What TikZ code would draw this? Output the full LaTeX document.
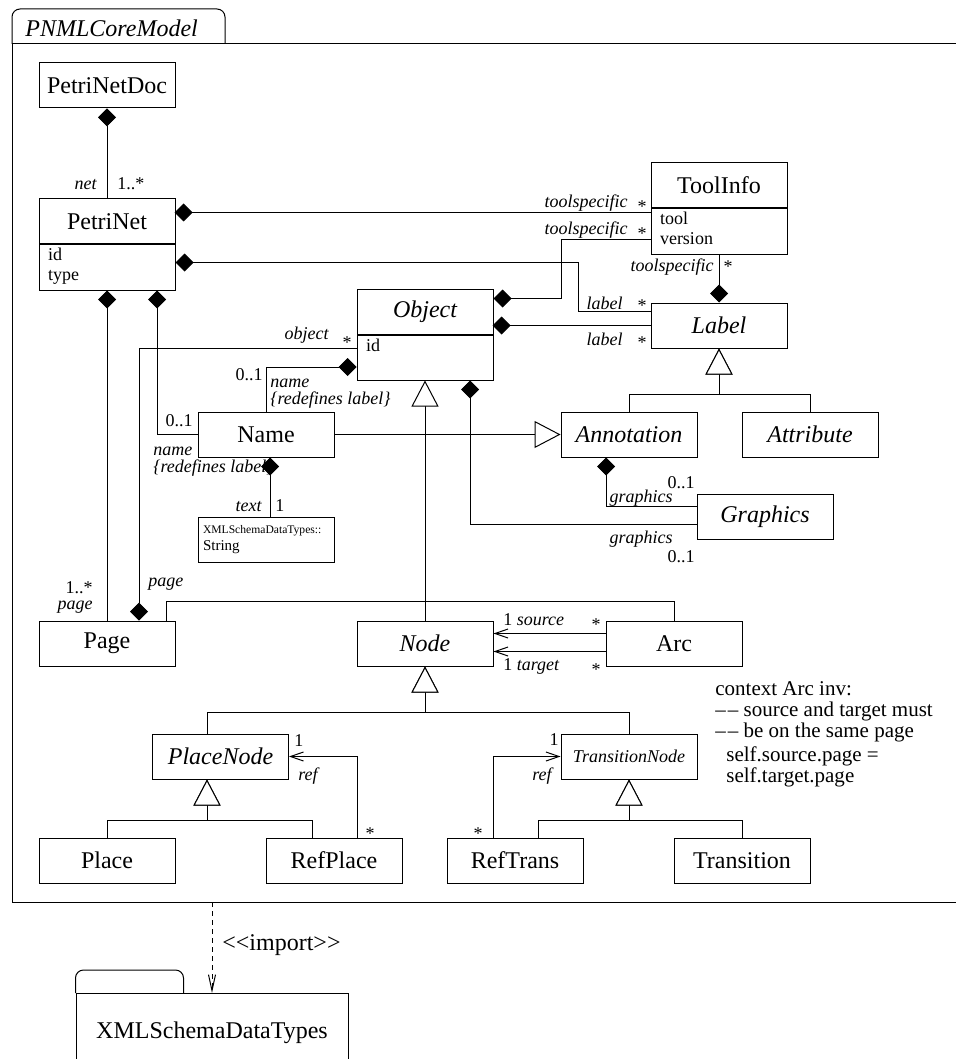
\documentclass[tikz,border=0pt]{standalone}
\usepackage{fontspec}
\setmainfont{Liberation Serif}
\usetikzlibrary{positioning, arrows.meta, calc}
\tikzset{
    cls/.style={rectangle, draw, line width=0.5pt, minimum width=68pt, minimum height=22.5pt, inner sep=0pt, font=\fontsize{12}{14}\selectfont},
    acls/.style={cls, font=\fontsize{12}{14}\selectfont\itshape},
    attrs/.style={rectangle, draw, line width=0.5pt, minimum width=68pt, text width=59pt, align=left, inner xsep=4.5pt, inner ysep=1pt, text height=7pt, text depth=13.5pt, font=\fontsize{9}{9.5}\selectfont},
    role/.style={inner sep=0pt, font=\fontsize{9}{8.5}\selectfont\itshape},
    mult/.style={inner sep=0pt, font=\fontsize{9}{10}\selectfont},
    ocl/.style={inner sep=0pt, align=left, anchor=north west},
    comp/.style={line width=0.5pt, -{Diamond[length=9pt,width=9pt]}},
    gen/.style={line width=0.5pt, -{Triangle[length=13pt,width=13.5pt,fill=white]}},
    nav/.style={line width=0.5pt, -{Straight Barb[length=6.5pt,width=4.5pt]}},
    assoc/.style={line width=0.5pt},
    dep/.style={line width=0.5pt, dash pattern=on 2.5pt off 2pt, -{Straight Barb[length=8pt,width=3.5pt]}},
}
\newcommand{\ocldash}{\textendash\kern1pt\textendash{} }
\begin{document}
\begin{tikzpicture}[x=0.5pt, y=-0.5pt]
    \useasboundingbox (0,0) rectangle (956,1059);
    \clip (0,0) rectangle (956,1059);
    % package PNMLCoreModel
    \draw[line width=0.5pt, rounded corners=4pt] (12,44) |- (225,9) -- (225,44);
    \draw[line width=0.5pt] (960,44) -| (12,902) -- (960,902);
    \node[anchor=west, inner sep=0pt, font=\fontsize{12}{14}\selectfont\itshape] (pkgname) at (25,28) {PNMLCoreModel};
    % classes
    \node[cls] (pnd) at (107,85.5) {PetriNetDoc};
    \node[cls] (pn) at (107,221.5) {PetriNet};
    \node[attrs, below=0pt of pn] (pna) {id\\type};
    \node[cls] (ti) at (719,185.5) {ToolInfo};
    \node[attrs, below=0pt of ti] (tia) {tool\\version};
    \node[acls] (lab) at (719,325.5) {Label};
    \node[acls] (obj) at (425,311.5) {Object};
    \node[attrs, below=0pt of obj] (obja) {id};
    \node[cls] (name) at (266,434.5) {Name};
    \node[cls, text width=63pt, align=left, inner xsep=2.5pt, font=\fontsize{7.5}{8.5}\selectfont] (str) at (266,539.5) {{\fontsize{5.8}{7}\selectfont XMLSchemaDataTypes::}\\String};
    \node[acls] (ann) at (629,434.5) {Annotation};
    \node[acls] (att) at (810,434.5) {Attribute};
    \node[acls] (gr) at (765,516.5) {Graphics};
    \node[cls] (page) at (107,643.5) {Page};
    \node[acls] (nod) at (425,643.5) {Node};
    \node[cls] (arc) at (674,643.5) {Arc};
    \node[acls] (pln) at (220.5,756.5) {PlaceNode};
    \node[acls, font=\fontsize{9}{10}\selectfont\itshape] (trn) at (629,756.5) {TransitionNode};
    \node[cls] (place) at (107,860.5) {Place};
    \node[cls] (rpl) at (334,860.5) {RefPlace};
    \node[cls] (rtr) at (515,860.5) {RefTrans};
    \node[cls] (trans) at (742,860.5) {Transition};
    % compositions
    \draw[comp] (pn.north) -- (pnd.south);
    \draw[comp] ($(tia.north west)+(0,4)$) -- ($(tia.north west)+(-476,4)$);
    \draw[comp] ($(tia.north west)+(0,31)$) -| ($(obj.north east)+(68,10)$) -- ($(obj.north east)+(0,10)$);
    \draw[comp] ($(lab.north west)+(0,9)$) -| ($(pna.north east)+(403,18)$) -- ($(pna.north east)+(0,18)$);
    \draw[comp] ($(lab.north west)+(0,23)$) -- ($(lab.north west)+(-158,23)$);
    \draw[comp] (tia.south) -- (lab.north);
    \draw[comp] (name.north) |- ($(obja.north west)+(0,32.5)$);
    \draw[comp] (name.west) -| ($(pna.south)+(50,0)$);
    \draw[comp] ($(str.north)+(4,0)$) -- ($(name.south)+(4,0)$);
    \draw[comp] (page.north) -- (pna.south);
    \draw[comp] ($(obja.north west)+(0,13.5)$) -| ($(page.north)+(32,0)$);
    \draw[comp] ($(gr.north west)+(0,31)$) -| ($(obja.south)+(45,0)$);
    \draw[comp] ($(gr.north west)+(0,13)$) -| ($(ann.south)+(-23,0)$);
    % generalizations
    \draw[gen] (ann.north) |- ($(lab.south)+(0,46)$) -- (lab.south);
    \draw[gen] (att.north) |- ($(lab.south)+(0,46)$) -- (lab.south);
    \draw[gen] (name.east) -- (ann.west);
    \draw[gen] (nod.north) -- (obja.south);
    \draw[gen] ($(pln.north)+(-13.5,0)$) |- ($(nod.south)+(0,46)$) -- (nod.south);
    \draw[gen] (trn.north) |- ($(nod.south)+(0,46)$) -- (nod.south);
    \draw[gen] (place.north) |- ($(pln.south)+(-13.5,41)$) -- ($(pln.south)+(-13.5,0)$);
    \draw[gen] ($(rpl.north)+(-22,0)$) |- ($(pln.south)+(-13.5,41)$) -- ($(pln.south)+(-13.5,0)$);
    \draw[gen] ($(rtr.north)+(23,0)$) |- ($(trn.south)+(0,41)$) -- (trn.south);
    \draw[gen] (trans.north) |- ($(trn.south)+(0,41)$) -- (trn.south);
    % associations
    \draw[assoc] ($(page.north)+(59,0)$) |- ($(arc.north)+(0,-19)$) -- (arc.north);
    \draw[nav] ($(arc.north west)+(0,13)$) -- ($(nod.north east)+(0,13)$);
    \draw[nav] ($(arc.north west)+(0,31)$) -- ($(nod.north east)+(0,31)$);
    \draw[nav] ($(rpl.north)+(23,0)$) |- (pln.east);
    \draw[nav] ($(rtr.north)+(-22,0)$) |- (trn.west);
    % roles and multiplicities
    \node[role, anchor=east] (rnet) at (97,185) {net};
    \node[mult, anchor=west] (mnet) at (117,184) {1..*};
    \node[role, anchor=east] (rts1) at (628,203) {toolspecific};
    \node[mult] (mts1) at (642,207) {*};
    \node[role, anchor=east] (rts2) at (628,230) {toolspecific};
    \node[mult] (mts2) at (642,234) {*};
    \node[role, anchor=east] (rts3) at (714,267) {toolspecific};
    \node[mult] (mts3) at (728,267) {*};
    \node[role, anchor=east] (rlab1) at (623,303) {label};
    \node[mult] (mlab1) at (642,306) {*};
    \node[role, anchor=east] (rlab2) at (623,339) {label};
    \node[mult] (mlab2) at (642,343) {*};
    \node[role, anchor=east] (robj) at (329,335) {object};
    \node[mult] (mobj) at (347,343) {*};
    \node[mult, anchor=east] (mname1) at (263,375) {0..1};
    \node[role, anchor=west, align=left] (rname1) at (270,394) {name\\\{redefines label\}};
    \node[mult, anchor=east] (mname2) at (193,421) {0..1};
    \node[role, anchor=west, align=left] (rname2) at (153,462) {name\\\{redefines label\}};
    \node[role, anchor=east] (rtext) at (262,507) {text};
    \node[mult, anchor=west] (mtext) at (275,506) {1};
    \node[mult, anchor=east] (mpage1) at (93,588) {1..*};
    \node[role, anchor=east] (rpage1) at (93,607) {page};
    \node[role, anchor=west] (rpage2) at (148,584) {page};
    \node[mult, anchor=east] (mgr1) at (695,483) {0..1};
    \node[role, anchor=east] (rgr1) at (673,498) {graphics};
    \node[role, anchor=east] (rgr2) at (673,539) {graphics};
    \node[mult, anchor=east] (mgr2) at (695,557) {0..1};
    \node[mult, anchor=west] (msrc) at (503,620) {1 \textit{source}};
    \node[mult] (msrca) at (596,625) {*};
    \node[mult, anchor=west] (mtgt) at (503,666) {1 \textit{target}};
    \node[mult] (mtgta) at (596,670) {*};
    \node[mult, anchor=west] (mrefp) at (294,741) {1};
    \node[role, anchor=west] (rrefp) at (298,776) {ref};
    \node[mult] (mrefpa) at (370,834) {*};
    \node[mult, anchor=east] (mreft) at (559,740) {1};
    \node[role, anchor=east] (rreft) at (552,776) {ref};
    \node[mult] (mrefta) at (478,834) {*};
    % constraint
    \node[ocl, font=\fontsize{10.5}{9}\selectfont] (inv) at (715,681) {context Arc inv:\\[1.5pt]\ocldash source and target must\\\ocldash be on the same page};
    \node[ocl, font=\fontsize{10.5}{10.5}\selectfont] (selfpage) at (726,746) {self.source.page =\\self.target.page};
    % package XMLSchemaDataTypes
    \node[draw, line width=0.5pt, minimum width=136pt, minimum height=39pt, anchor=north, inner sep=0pt, font=\fontsize{12}{14}\selectfont] (xsd) at (212,993) {XMLSchemaDataTypes};
    \draw[line width=0.5pt, rounded corners=4pt] (xsd.north west) |- ($(xsd.north west)+(108,-23)$) -- ($(xsd.north west)+(108,0)$);
    \coordinate (corebottom) at (212,902);
    \draw[dep] (corebottom) -- (xsd.north);
    \node[anchor=west, inner sep=0pt, font=\fontsize{12}{14}\selectfont] (imp) at (222,945) {{<}{<}import{>}{>}};
\end{tikzpicture}
\end{document}
